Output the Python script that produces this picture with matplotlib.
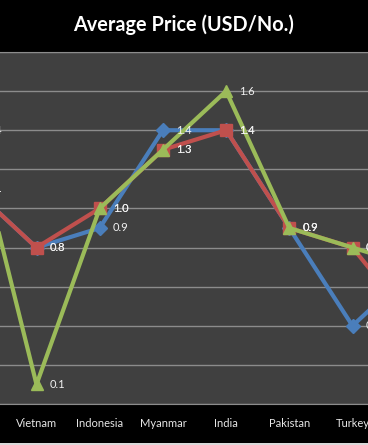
import matplotlib.pyplot as plt
from matplotlib.patches import Rectangle

plt.rcParams['font.family'] = ['Lato', 'DejaVu Sans']

# categories (first and last are outside the visible crop)
categories = ["", "Vietnam", "Indonesia", "Myanmar", "India", "Pakistan", "Turkey", ""]
blue_vals = [1.1, 0.8, 0.9, 1.4, 1.4, 0.9, 0.4, 0.7]
red_vals = [1.1, 0.8, 1.0, 1.3, 1.4, 0.9, 0.8, 0.4]
green_vals = [1.4, 0.1, 1.0, 1.3, 1.6, 0.9, 0.8, 0.7]

x = list(range(len(categories)))

fig = plt.figure(figsize=(3.68, 4.45), dpi=100, facecolor="black")
ax = fig.add_axes([0, 41 / 445, 1, 352 / 445])
ax.set_facecolor("#404040")

series = [
    (blue_vals, "#4a7ebb", "D", 7),
    (red_vals, "#c0504d", "s", 8),
    (green_vals, "#9bbb59", "^", 9),
]
for i, (vals, col, mk, ms) in enumerate(series):
    ax.plot(x, vals, color=col, lw=3, marker=mk, markersize=ms,
            markerfacecolor=col, markeredgecolor=col, zorder=3 + i,
            clip_on=True)
    for xi, v in zip(x, vals):
        ax.annotate(f"{v:.1f}", (xi, v), xytext=(9.5, 0),
                    textcoords="offset points", ha="left", va="center",
                    color="#f2f2f2", fontsize=8, annotation_clip=False,
                    zorder=10)

ax.set_yticks([i * 0.2 for i in range(10)])
ax.yaxis.grid(True, color="#8c8c8c", lw=1)
ax.set_axisbelow(True)
ax.tick_params(axis="y", length=0, labelleft=False)

ax.set_xticks(x)
ax.set_xticklabels(categories, color="#e6e6e6", fontsize=8)
ax.tick_params(axis="x", length=0, pad=10)

# Vietnam at 36.5px, Turkey at 352.5px (chart is cropped on both sides)
px_per = (352.5 - 36.5) / 5
ax.set_xlim(1 - 36.5 / px_per, 1 + (368 - 36.5) / px_per)
ax.set_ylim(0, 1.8)

for s in ["left", "right"]:
    ax.spines[s].set_visible(False)
ax.spines["top"].set_color("#8c8c8c")
ax.spines["bottom"].set_color("#8c8c8c")

fig.text(0.5, 1 - 25 / 445, "Average Price (USD/No.)", color="white",
         fontsize=14.3, fontweight="bold", ha="center", va="center")

fig.patches.append(Rectangle((0, 0), 1, 2 / 445, transform=fig.transFigure,
                             facecolor="#d9d9d9", edgecolor="none"))

fig.savefig("out.png", dpi=100, facecolor="black")
